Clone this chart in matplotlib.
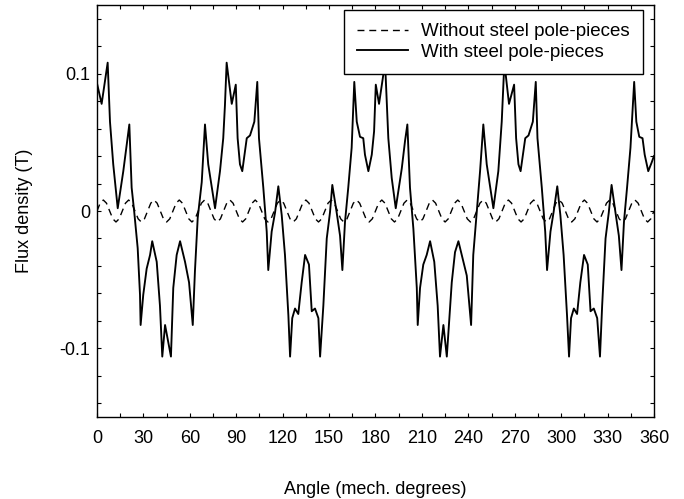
import numpy as np
import matplotlib
matplotlib.use("Agg")
import matplotlib.pyplot as plt
from matplotlib.ticker import FixedLocator, MultipleLocator

plt.rcParams['font.family'] = ['Liberation Sans', 'DejaVu Sans']

# flux density with steel pole-pieces (angle in deg, flux in T)
with_angle = [
    0.0, 3.0, 6.9, 8.4, 10.5, 13.4, 17.0, 20.9, 22.4, 24.1, 26.3, 27.8, 28.2, 29.9,
    32.1, 34.3, 35.7, 38.6, 40.7, 42.2, 44.0, 47.8, 49.3, 51.5, 53.7, 56.9, 59.5,
    61.9, 63.3, 65.1, 67.7, 69.8, 71.9, 76.3, 79.5, 81.6, 82.7, 83.8, 87.1, 89.7,
    90.9, 92.4, 93.9, 96.8, 98.9, 101.7, 103.6, 104.7, 107.5, 109.7, 110.7, 112.9,
    115.1, 117.2, 119.4, 121.5, 123.7, 124.8, 126.2, 128.0, 130.1, 132.3, 134.5,
    137.0, 138.8, 140.9, 143.1, 144.2, 146.3, 148.5, 150.6, 152.1, 154.9, 157.1,
    158.6, 160.3, 162.4, 164.6, 166.3, 167.9, 170.0, 172.1, 173.2, 175.4, 177.6,
    179.1, 180.2, 182.3, 186.2, 188.3, 190.5, 193.1, 197.0, 199.1, 200.6, 202.3,
    204.5, 206.7, 207.3, 208.8, 210.9, 213.1, 215.3, 218.0, 220.2, 221.7, 223.9,
    226.1, 229.3, 231.4, 233.6, 236.8, 239.0, 241.8, 243.2, 245.4, 247.6, 249.7,
    251.9, 256.2, 259.4, 261.6, 263.3, 266.3, 269.6, 270.9, 272.4, 273.8, 276.8,
    278.9, 281.7, 283.6, 284.7, 287.5, 289.7, 290.9, 293.1, 295.1, 297.5, 299.5,
    301.6, 303.8, 305.1, 306.4, 308.2, 310.3, 312.4, 314.8, 317.2, 319.0, 321.1,
    323.3, 325.1, 326.5, 328.7, 330.8, 332.6, 335.1, 337.3, 339.0, 340.6, 342.6,
    344.8, 347.2, 348.6, 350.5, 352.6, 354.0, 356.3, 358.4, 360.0]
with_flux = [
    0.093, 0.078, 0.108, 0.065, 0.034, 0.002, 0.029, 0.063, 0.017, -0.001, -0.027, -0.061, -0.083, -0.061,
    -0.042, -0.032, -0.022, -0.037, -0.069, -0.106, -0.083, -0.106, -0.056, -0.032, -0.022, -0.037, -0.052,
    -0.083, -0.044, -0.005, 0.021, 0.063, 0.034, 0.002, 0.029, 0.053, 0.077, 0.108, 0.078, 0.092,
    0.053, 0.034, 0.029, 0.053, 0.055, 0.065, 0.094, 0.053, 0.017, -0.015, -0.043, -0.015,
    -0.001, 0.018, -0.003, -0.032, -0.076, -0.106, -0.078, -0.071, -0.075, -0.052, -0.032,
    -0.039, -0.073, -0.071, -0.078, -0.106, -0.069, -0.020, -0.001, 0.019, -0.001, -0.018,
    -0.043, -0.008, 0.017, 0.046, 0.094, 0.065, 0.054, 0.053, 0.041, 0.029, 0.041,
    0.058, 0.092, 0.078, 0.108, 0.053, 0.024, 0.002, 0.031, 0.051, 0.063, 0.017,
    -0.013, -0.056, -0.083, -0.056, -0.039, -0.032, -0.022, -0.037, -0.069, -0.106, -0.083,
    -0.106, -0.052, -0.030, -0.022, -0.037, -0.047, -0.083, -0.032, -0.001, 0.029, 0.063,
    0.034, 0.002, 0.029, 0.065, 0.108, 0.078, 0.092, 0.053, 0.034, 0.029, 0.053,
    0.055, 0.065, 0.094, 0.053, 0.017, -0.015, -0.043, -0.015, -0.001, 0.018, -0.003,
    -0.032, -0.076, -0.106, -0.078, -0.071, -0.075, -0.052, -0.032, -0.039, -0.073, -0.071,
    -0.078, -0.106, -0.069, -0.020, -0.001, 0.019, -0.001, -0.018, -0.043, -0.008, 0.017,
    0.046, 0.094, 0.065, 0.054, 0.053, 0.041, 0.029, 0.035, 0.040]

# flux density without steel pole-pieces, sampled every ~2 deg (22 ripples per rev)
without_flux = [
    0.0, 0.0057, 0.008, 0.0057, 0.0, -0.0057, -0.008, -0.0057,
    0.0, 0.0057, 0.008, 0.0057, 0.0, -0.0057, -0.008, -0.0057,
    0.0, 0.0057, 0.008, 0.0057, 0.0, -0.0057, -0.008, -0.0057,
    0.0, 0.0057, 0.008, 0.0057, 0.0, -0.0057, -0.008, -0.0057,
    0.0, 0.0057, 0.008, 0.0057, 0.0, -0.0057, -0.008, -0.0057,
    0.0, 0.0057, 0.008, 0.0057, 0.0, -0.0057, -0.008, -0.0057,
    0.0, 0.0057, 0.008, 0.0057, 0.0, -0.0057, -0.008, -0.0057,
    0.0, 0.0057, 0.008, 0.0057, 0.0, -0.0057, -0.008, -0.0057,
    0.0, 0.0057, 0.008, 0.0057, 0.0, -0.0057, -0.008, -0.0057,
    0.0, 0.0057, 0.008, 0.0057, 0.0, -0.0057, -0.008, -0.0057,
    0.0, 0.0057, 0.008, 0.0057, 0.0, -0.0057, -0.008, -0.0057,
    0.0, 0.0057, 0.008, 0.0057, 0.0, -0.0057, -0.008, -0.0057,
    0.0, 0.0057, 0.008, 0.0057, 0.0, -0.0057, -0.008, -0.0057,
    0.0, 0.0057, 0.008, 0.0057, 0.0, -0.0057, -0.008, -0.0057,
    0.0, 0.0057, 0.008, 0.0057, 0.0, -0.0057, -0.008, -0.0057,
    0.0, 0.0057, 0.008, 0.0057, 0.0, -0.0057, -0.008, -0.0057,
    0.0, 0.0057, 0.008, 0.0057, 0.0, -0.0057, -0.008, -0.0057,
    0.0, 0.0057, 0.008, 0.0057, 0.0, -0.0057, -0.008, -0.0057,
    0.0, 0.0057, 0.008, 0.0057, 0.0, -0.0057, -0.008, -0.0057,
    0.0, 0.0057, 0.008, 0.0057, 0.0, -0.0057, -0.008, -0.0057,
    0.0, 0.0057, 0.008, 0.0057, 0.0, -0.0057, -0.008, -0.0057,
    0.0, 0.0057, 0.008, 0.0057, 0.0, -0.0057, -0.008, -0.0057,
    0.0]
without_angle = np.linspace(0, 360, len(without_flux))

xticks = [0, 30, 60, 90, 120, 150, 180, 210, 240, 270, 300, 330, 360]
yticks = [-0.1, 0, 0.1]
ytick_labels = ['-0.1', '0', '0.1']
labels = ['Without steel pole-pieces', 'With steel pole-pieces']


def main():
    fig = plt.figure(figsize=(6.84, 4.99), dpi=100)
    ax = fig.add_axes([0.1418, 0.1643, 0.8143, 0.8257])

    ax.plot(without_angle, without_flux, color='black', lw=1.0,
            dashes=(5, 3.5), label=labels[0])
    ax.plot(with_angle, with_flux, color='black', lw=1.35, label=labels[1])

    ax.set_xlim(0, 360)
    ax.set_ylim(-0.15, 0.15)
    ax.xaxis.set_major_locator(FixedLocator(xticks))
    ax.xaxis.set_minor_locator(MultipleLocator(15))
    ax.yaxis.set_major_locator(FixedLocator(yticks))
    ax.yaxis.set_minor_locator(MultipleLocator(0.02))
    ax.set_yticklabels(ytick_labels)

    ax.tick_params(which='both', direction='in', top=True, right=True,
                   length=3, width=0.8, labelsize=13)
    ax.tick_params(axis='x', pad=9)
    ax.tick_params(axis='y', pad=5)
    for s in ax.spines.values():
        s.set_linewidth(1.0)

    ax.set_xlabel('Angle (mech. degrees)', fontsize=13, labelpad=25)
    ax.set_ylabel('Flux density (T)', fontsize=13, labelpad=19)

    leg = ax.legend(loc='upper right', bbox_to_anchor=(0.980, 0.988),
                    fontsize=13.5, fancybox=False, framealpha=1,
                    edgecolor='black', handlelength=2.7, handletextpad=0.7,
                    borderpad=0.7, labelspacing=0.2, borderaxespad=0)
    leg.get_frame().set_linewidth(1.0)

    fig.savefig('out.png', dpi=100)


if __name__ == '__main__':
    main()
